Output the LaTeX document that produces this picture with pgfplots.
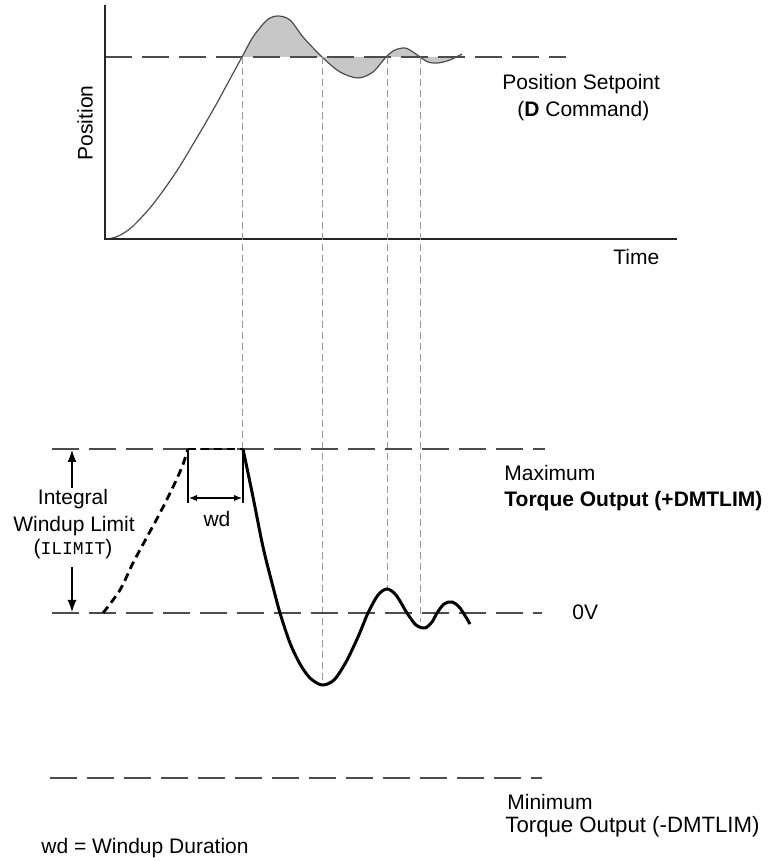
\documentclass[border=0pt]{standalone}
\usepackage{pgfplots}
\pgfplotsset{compat=1.18}
\usepgfplotslibrary{fillbetween}
\usetikzlibrary{arrows.meta}
\usepackage{fontspec}
\setmainfont{Liberation Sans}
\setmonofont{Liberation Mono}
\begin{document}
\fontsize{10.5}{12.6}\selectfont
\begin{tikzpicture}
\begin{axis}[hide axis, scale only axis, width=385.5pt, height=430.5pt,
  xmin=0, xmax=771, ymin=0, ymax=861, y dir=reverse, clip=false]
% frame for bounding box
\addplot[draw=none, forget plot] coordinates {(0,0) (771,861)};
% ---------- top: position ----------
\addplot[name path=pos, smooth, line width=0.6pt, black!70] coordinates {
 (108,239) (116,237) (124,233) (132,227) (140,219) (150,208) (160,195) (170,181) (180,166)
 (192,146) (205,124) (217,103) (230,79) (242,57)
 (253,37) (267,20) (278,16) (290,20) (303,37) (322,57) (340,72) (358,78) (373,72) (386,57)
 (395,50) (405,48) (413,52) (420,57) (428,62) (438,63) (450,60) (462,54)};
\addplot[name path=sp, draw=none] coordinates {(242,57) (462,57)};
\addplot[fill=black!22, draw=none] fill between[of=pos and sp, soft clip={domain=242:462}];
% setpoint
\addplot[line width=0.9pt, black!70, dash pattern=on 13.5pt off 5pt] coordinates {(105,57) (566,57)};
% axes
\addplot[line width=1.3pt, black!85] coordinates {(105,5) (105,239) (677,239)};
% vertical guides
\addplot[line width=0.5pt, black!40, dash pattern=on 3.5pt off 2pt] coordinates {(242,57) (242,449)};
\addplot[line width=0.5pt, black!40, dash pattern=on 3.5pt off 2pt] coordinates {(322,57) (322,684)};
\addplot[line width=0.5pt, black!40, dash pattern=on 3.5pt off 2pt] coordinates {(387,57) (387,589)};
\addplot[line width=0.5pt, black!40, dash pattern=on 3.5pt off 2pt] coordinates {(420,57) (420,622)};
% ---------- bottom: torque ----------
\addplot[line width=0.9pt, black!70, dash pattern=on 13.5pt off 5pt] coordinates {(52,449) (545,449)};
\addplot[line width=0.9pt, black!70, dash pattern=on 13.5pt off 5pt] coordinates {(52,613) (542,613)};
\addplot[line width=0.9pt, black!70, dash pattern=on 13.5pt off 5pt] coordinates {(50,778) (542,778)};
% windup dashed curve
\addplot[smooth, line width=1.4pt, black, dash pattern=on 4pt off 2.5pt] coordinates {
 (103,613) (120,590) (133,563) (147,537) (160,513) (173,487) (182,467) (188,449)};
\addplot[line width=1.4pt, black, dash pattern=on 4pt off 2.5pt] coordinates {(188,449) (243,449)};
% torque response
\addplot[smooth, line width=1.5pt, black] coordinates {
 (243,449) (253,497) (263,547) (272,583) (280,613) (290,643) (300,664) (310,678) (322,685)
 (334,680) (346,662) (358,637) (368,613) (378,595) (387,589) (396,595) (407,613) (416,625)
 (425,628) (432,622) (437,613) (444,604) (452,602) (460,608) (470,624)};
% wd markers
\addplot[line width=0.6pt, black] coordinates {(188,449) (188,503)};
\addplot[line width=0.6pt, black] coordinates {(243,449) (243,503)};
\addplot[line width=0.6pt, black, {Latex[length=4pt,width=3.2pt]}-{Latex[length=4pt,width=3.2pt]}] coordinates {(189,498) (242,498)};
% ILIMIT arrows
\addplot[line width=0.6pt, black, -{Latex[length=6pt,width=4.5pt]}] coordinates {(72,488) (72,450)};
\addplot[line width=0.6pt, black, -{Latex[length=6pt,width=4.5pt]}] coordinates {(72,567) (72,612)};
% ---------- labels ----------
\node[rotate=90] at (axis cs:85,123) {Position};
\node[anchor=base west, inner sep=0] at (axis cs:613,265) {Time};
\node[anchor=base west, inner sep=0] at (axis cs:502,90) {Position Setpoint};
\node[anchor=base west, inner sep=0] at (axis cs:517,117) {(\textbf{D} Command)};
\node[anchor=base west, inner sep=0] at (axis cs:504,481) {Maximum};
\node[anchor=base west, inner sep=0] at (axis cs:504,507) {\textbf{Torque Output (+DMTLIM)}};
\node[anchor=base west, inner sep=0] at (axis cs:572,620) {0V};
\node[anchor=base west, inner sep=0] at (axis cs:507,810) {Minimum};
\node[anchor=base west, inner sep=0] at (axis cs:505,833) {\fontsize{11.1}{13}\selectfont Torque Output (-DMTLIM)};
\node[anchor=base west, inner sep=0] at (axis cs:41,853) {wd = Windup Duration};
\node[anchor=base, inner sep=0] at (axis cs:73,505) {Integral};
\node[anchor=base, inner sep=0] at (axis cs:74,532) {Windup Limit};
\node[anchor=base, inner sep=0] at (axis cs:73,555) {(\texttt{\fontsize{9}{10}\selectfont ILIMIT})};
\node[anchor=base, inner sep=0] at (axis cs:217,527) {wd};
\end{axis}
\end{tikzpicture}
\end{document}
